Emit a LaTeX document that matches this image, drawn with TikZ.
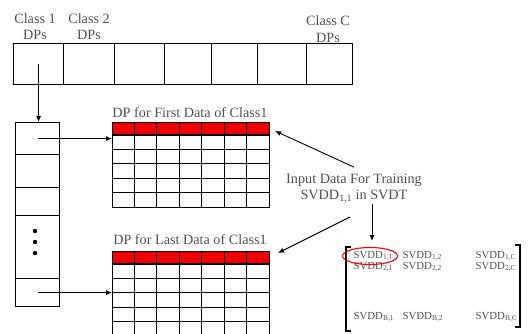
\documentclass[tikz,border=0pt]{standalone}
\usepackage{fontspec}
\setmainfont{Liberation Serif}
\usetikzlibrary{arrows.meta,shapes.geometric}
\definecolor{txt}{HTML}{505050}
\definecolor{cellred}{HTML}{F00000}
\begin{document}
\begin{tikzpicture}[x=1pt,y=-1pt,line width=1.2pt,
  lbl/.style={text=txt,font=\fontsize{14.2}{16.5}\selectfont,align=center,inner sep=0pt},
  mtx/.style={text=txt,font=\fontsize{10.8}{12}\selectfont,inner sep=0pt,anchor=west},
  arr/.style={-{Latex[length=6pt,width=5pt]},line width=0.9pt},
  boxn/.style={draw,inner sep=0pt,anchor=north west},
  gridbox/.style={boxn,minimum width=157pt,minimum height=85pt},
  selring/.style={draw=red,ellipse,line width=1.1pt,minimum width=55pt,minimum height=17pt,inner sep=0pt}]
\useasboundingbox (0,0) rectangle (530,334);
\clip (0,0) rectangle (530,334);
% top row of class cells
\node[boxn,minimum width=50pt,minimum height=41pt] (c1) at (13,43) {};
\node[boxn,minimum width=51pt,minimum height=41pt] (c2) at (63,43) {};
\node[boxn,minimum width=50pt,minimum height=41pt] (c3) at (114,43) {};
\node[boxn,minimum width=47pt,minimum height=41pt] (c4) at (164,43) {};
\node[boxn,minimum width=46pt,minimum height=41pt] (c5) at (211,43) {};
\node[boxn,minimum width=49pt,minimum height=41pt] (c6) at (257,43) {};
\node[boxn,minimum width=46pt,minimum height=41pt] (c7) at (306,43) {};
\node[lbl] (l1) at (35,26.5) {Class 1\\DPs};
\node[lbl] (l2) at (89,26.5) {Class 2\\DPs};
\node[lbl] (l3) at (328,29) {Class C\\DPs};
% vertical column
\node[boxn,minimum width=44pt,minimum height=32pt] (k1) at (15,122) {};
\node[boxn,minimum width=44pt,minimum height=33pt] (k2) at (15,154) {};
\node[boxn,minimum width=44pt,minimum height=28pt] (k3) at (15,187) {};
\node[boxn,minimum width=44pt,minimum height=63pt] (k4) at (15,215) {};
\node[boxn,minimum width=44pt,minimum height=28pt] (k5) at (15,278) {};
\foreach \yy in {231,242,253} \fill (35,\yy) circle (2.2pt);
% grids
\foreach \gy/\nm in {122/g1,251/g2}{
  \fill[cellred] (112,\gy) rectangle (269,\gy+13);
  \foreach \i in {1,...,6} \draw (112+\i*22.43,\gy) -- (112+\i*22.43,\gy+85);
  \foreach \j in {0,...,4} \draw (112,\gy+13+\j*14.4) -- (269,\gy+13+\j*14.4);
  \node[gridbox] (\nm) at (112,\gy) {};
}
\node[lbl] (t1) at (190,113) {DP for First Data of Class1};
\node[lbl] (t2) at (190,240) {DP for Last Data of Class1};
% connectors left
\draw[arr] (c1.center) -- (c1.center |- k1.north);
\draw[arr] (k1.center) -- (k1.center -| g1.west);
\draw[arr] (k5.center) -- (k5.center -| g2.west);
% input text
\node[lbl] (inp) at (354,188.5) {Input Data For Training\\SVDD\textsubscript{1,1} in SVDT};
\coordinate (a1) at (275,131);
\coordinate (s2) at (350,217);
\coordinate (a2) at (278,253);
\coordinate (s3) at (372,204);
\coordinate (a3) at (372,241);
\draw[arr] ([yshift=6pt]inp.north) -- (a1);
\draw[arr] (s2) -- (a2);
\draw[arr] (s3) -- (a3);
% matrix
\draw[line width=1.3pt] (351,247) -- (346,247) -- (346,331) -- (351,331);
\draw[line width=1.3pt] (515,245) -- (520,245) -- (520,327) -- (515,327);
\node[mtx] (m11) at (353,256) {SVDD\textsubscript{1,1}};
\node[mtx] (m12) at (402,256) {SVDD\textsubscript{1,2}};
\node[mtx] (m1c) at (475,256) {SVDD\textsubscript{1,C}};
\node[mtx] (m21) at (353,267) {SVDD\textsubscript{2,1}};
\node[mtx] (m22) at (402,267) {SVDD\textsubscript{2,2}};
\node[mtx] (m2c) at (475,267) {SVDD\textsubscript{2,C}};
\node[mtx] (mb1) at (353,317) {SVDD\textsubscript{B,1}};
\node[mtx] (mb2) at (402,317) {SVDD\textsubscript{B,2}};
\node[mtx] (mbc) at (475,317) {SVDD\textsubscript{B,C}};
\node[selring] (ring) at (370,256) {};
\end{tikzpicture}
\end{document}
